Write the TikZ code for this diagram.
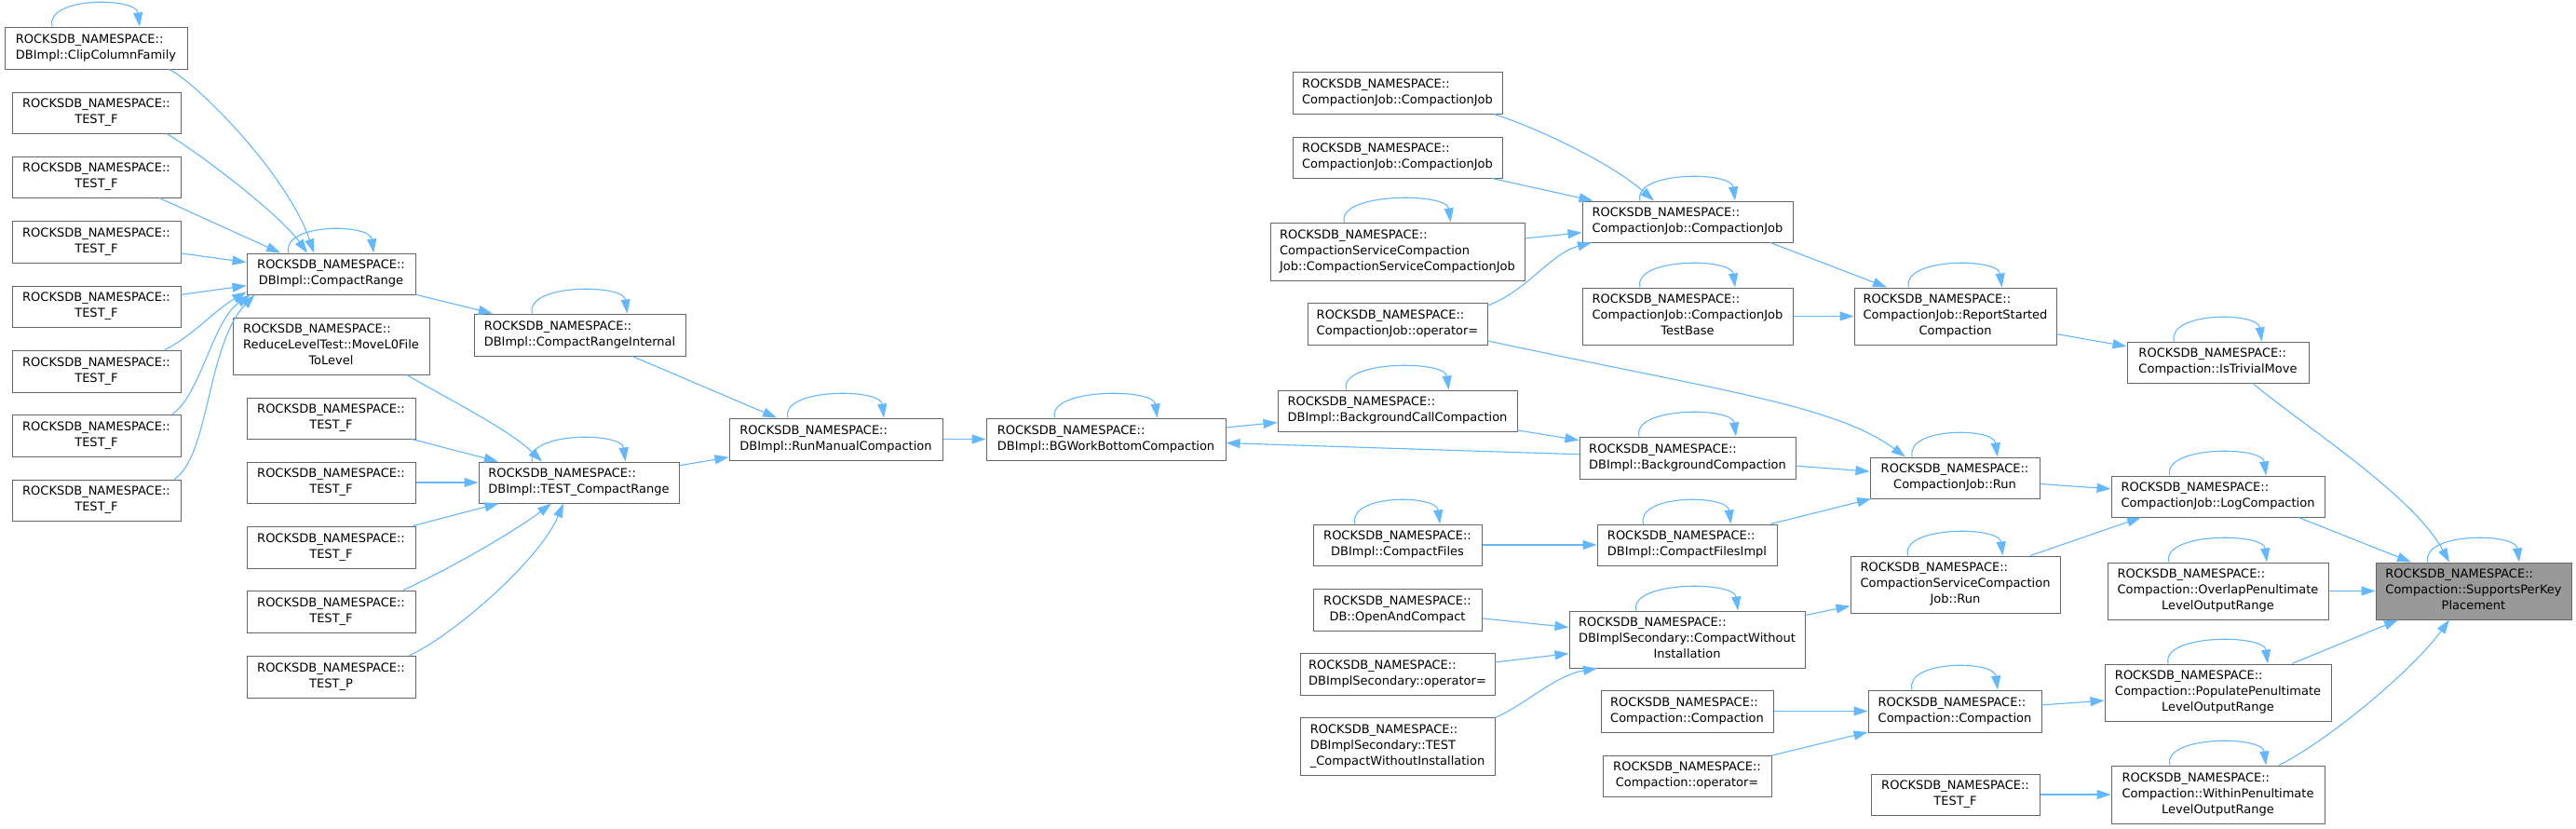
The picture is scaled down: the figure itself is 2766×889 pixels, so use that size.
\documentclass[tikz,border=0pt]{standalone}
\usepackage{fontspec}
\setmainfont{DejaVu Sans}
\usetikzlibrary{arrows.meta,calc}
\definecolor{nodeborder}{HTML}{666666}
\definecolor{edgeblue}{HTML}{63B8FF}
\definecolor{hlfill}{HTML}{999999}
\newcommand\rns{ROCKSDB\_NAMESPACE::}
\newcommand\twol[2]{\begin{tabular}{@{}l@{}}#1\\\multicolumn{1}{@{}c@{}}{#2}\end{tabular}}
\newcommand\threel[3]{\begin{tabular}{@{}l@{}}#1\\#2\\\multicolumn{1}{@{}c@{}}{#3}\end{tabular}}
\tikzset{
  fnbox/.style={draw=nodeborder, line width=1pt, inner sep=0pt, font=\fontsize{13}{17}\selectfont},
  conn/.style={draw=edgeblue, line width=1.1pt, -{Triangle[length=15pt,width=10pt]}}
}
\newcommand\bx[7][white]{%
  \pgfmathsetmacro\bxw{#5-#3}\pgfmathsetmacro\bxh{#6-#4}%
  \node[fnbox, fill=#1, minimum width=\bxw pt, minimum height=\bxh pt] (#2) at ({(#3+#5)/2},{(#4+#6)/2}) {#7};}
\newcommand\selfloop[2]{\draw[conn] ($(#1.north)+(-#2,0)$) .. controls ($(#1.north)+(-#2-8,-32)$) and ($(#1.north)+(#2-4,-32)$) .. ($(#1.north)+(#2,0)$);}
\begin{document}
\begin{tikzpicture}[x=1pt,y=-1pt]
\useasboundingbox (0,0) rectangle (2766,889);
\fill[white] (0,0) rectangle (2766,889);
% column 1
\bx{ccf}{5}{29}{201}{74}{\twol{\rns}{DBImpl::ClipColumnFamily}}
\bx{t1}{13}{99}{194}{143}{\twol{\rns}{TEST\_F}}
\bx{t2}{13}{168}{194}{212}{\twol{\rns}{TEST\_F}}
\bx{t3}{13}{237}{194}{282}{\twol{\rns}{TEST\_F}}
\bx{t4}{13}{307}{194}{351}{\twol{\rns}{TEST\_F}}
\bx{t5}{13}{376}{194}{421}{\twol{\rns}{TEST\_F}}
\bx{t6}{13}{445}{194}{490}{\twol{\rns}{TEST\_F}}
\bx{t7}{13}{515}{194}{559}{\twol{\rns}{TEST\_F}}
% column 2
\bx{cr}{265}{272}{446}{316}{\twol{\rns}{DBImpl::CompactRange}}
\bx{rl}{250}{341}{461}{402}{\threel{\rns}{ReduceLevelTest::MoveL0File}{ToLevel}}
\bx{u1}{265}{427}{446}{471}{\twol{\rns}{TEST\_F}}
\bx{u2}{265}{496}{446}{540}{\twol{\rns}{TEST\_F}}
\bx{u3}{265}{565}{446}{610}{\twol{\rns}{TEST\_F}}
\bx{u4}{265}{634}{446}{679}{\twol{\rns}{TEST\_F}}
\bx{u5}{265}{704}{446}{749}{\twol{\rns}{TEST\_P}}
% column 3
\bx{cri}{509}{337}{736}{382}{\twol{\rns}{DBImpl::CompactRangeInternal}}
\bx{tcr}{514}{496}{729}{540}{\twol{\rns}{DBImpl::TEST\_CompactRange}}
% column 4
\bx{rmc}{783}{449}{1012}{494}{\twol{\rns}{DBImpl::RunManualCompaction}}
\bx{bgw}{1059}{449}{1316}{494}{\twol{\rns}{DBImpl::BGWorkBottomCompaction}}
% column 5
\bx{cj1}{1388}{77}{1613}{122}{\twol{\rns}{CompactionJob::CompactionJob}}
\bx{cj2}{1388}{147}{1613}{191}{\twol{\rns}{CompactionJob::CompactionJob}}
\bx{cscj}{1364}{239}{1637}{301}{\threel{\rns}{CompactionServiceCompaction}{Job::CompactionServiceCompactionJob}}
\bx{cjop}{1404}{325}{1597}{370}{\twol{\rns}{CompactionJob::operator=}}
\bx{bcc}{1372}{419}{1629}{463}{\twol{\rns}{DBImpl::BackgroundCallCompaction}}
\bx{cf}{1410}{563}{1591}{607}{\twol{\rns}{DBImpl::CompactFiles}}
\bx{oac}{1410}{632}{1591}{677}{\twol{\rns}{DB::OpenAndCompact}}
\bx{dsop}{1396}{701}{1605}{746}{\twol{\rns}{DBImplSecondary::operator=}}
\bx{tcwi}{1396}{770}{1605}{832}{\threel{\rns}{DBImplSecondary::TEST}{\_CompactWithoutInstallation}}
% column 6
\bx{cjc}{1699}{216}{1925}{260}{\twol{\rns}{CompactionJob::CompactionJob}}
\bx{cjtb}{1699}{309}{1925}{370}{\threel{\rns}{CompactionJob::CompactionJob}{TestBase}}
\bx{bc}{1696}{469}{1928}{514}{\twol{\rns}{DBImpl::BackgroundCompaction}}
\bx{cfi}{1715}{563}{1908}{607}{\twol{\rns}{DBImpl::CompactFilesImpl}}
\bx{cwi}{1685}{656}{1938}{717}{\threel{\rns}{DBImplSecondary::CompactWithout}{Installation}}
\bx{cc}{1719}{741}{1904}{786}{\twol{\rns}{Compaction::Compaction}}
\bx{cop}{1721}{811}{1902}{855}{\twol{\rns}{Compaction::operator=}}
% column 7
\bx{rsc}{1991}{309}{2208}{370}{\threel{\rns}{CompactionJob::ReportStarted}{Compaction}}
\bx{cjr}{2008}{491}{2190}{535}{\twol{\rns}{CompactionJob::Run}}
\bx{cscjr}{1987}{597}{2212}{658}{\threel{\rns}{CompactionServiceCompaction}{Job::Run}}
\bx{ccr}{2006}{741}{2192}{786}{\twol{\rns}{Compaction::Compaction}}
\bx{tfr}{2009}{831}{2190}{875}{\twol{\rns}{TEST\_F}}
% column 8
\bx{itm}{2284}{367}{2479}{411}{\twol{\rns}{Compaction::IsTrivialMove}}
\bx{lc}{2267}{511}{2496}{555}{\twol{\rns}{CompactionJob::LogCompaction}}
\bx{ov}{2263}{604}{2500}{665}{\threel{\rns}{Compaction::OverlapPenultimate}{LevelOutputRange}}
\bx{pp}{2260}{713}{2503}{774}{\threel{\rns}{Compaction::PopulatePenultimate}{LevelOutputRange}}
\bx{wp}{2267}{822}{2496}{884}{\threel{\rns}{Compaction::WithinPenultimate}{LevelOutputRange}}
% column 9
\bx[hlfill]{spk}{2551}{604}{2761}{665}{\threel{\rns}{Compaction::SupportsPerKey}{Placement}}

% self loops
\selfloop{ccf}{47}
\selfloop{cr}{45.6}
\selfloop{cri}{51}
\selfloop{tcr}{50}
\selfloop{rmc}{51.6}
\selfloop{bgw}{55}
\selfloop{bcc}{55}
\selfloop{cscj}{57}
\selfloop{cjc}{51}
\selfloop{cjtb}{51}
\selfloop{rsc}{50}
\selfloop{itm}{47}
\selfloop{bc}{52}
\selfloop{cf}{45.6}
\selfloop{cfi}{47}
\selfloop{cwi}{54.6}
\selfloop{cjr}{45.7}
\selfloop{cscjr}{51}
\selfloop{ccr}{46}
\selfloop{lc}{51.6}
\selfloop{ov}{52.6}
\selfloop{pp}{53.4}
\selfloop{wp}{51.6}
\selfloop{spk}{49}

% edges
\draw[conn] ($(ccf.south)+(79,0)$) .. controls (215,92) and (310,190) .. ($(cr.north)+(-18.5,0)$);
\draw[conn] ($(t1.south)+(75.5,0)$) .. controls (215,165) and (300,230) .. ($(cr.north)+(-25.5,0)$);
\draw[conn] ($(t2.south)+(67.5,0)$) -- ($(cr.north)+(-54.5,0)$);
\draw[conn] (t3) -- (cr);
\draw[conn] (t4) -- (cr);
\draw[conn] ($(t5.north)+(73.5,0)$) .. controls (205,362) and (232,332) .. ($(cr.south west)+(0,-3)$);
\draw[conn] ($(t6.north)+(81.5,0)$) .. controls (215,425) and (228,345) .. ($(cr.south west)+(4,0)$);
\draw[conn] ($(t7.north)+(83.5,0)$) .. controls (225,490) and (222,370) .. ($(cr.south west)+(9,0)$);
\draw[conn] (cr) -- (cri);
\draw[conn] ($(cri.south)+(56.5,0)$) -- ($(rmc.north)+(-63.5,0)$);
\draw[conn] ($(rl.south)+(81.5,0)$) .. controls (480,428) and (545,460) .. ($(tcr.north)+(-39.5,0)$);
\draw[conn] (u1) -- (tcr);
\draw[conn] (u2) -- (tcr);
\draw[conn] (u3) -- (tcr);
\draw[conn] ($(u4.north)+(77.5,0)$) .. controls (495,605) and (560,565) .. ($(tcr.south)+(-29.5,0)$);
\draw[conn] ($(u5.north)+(84.5,0)$) .. controls (490,680) and (580,600) .. ($(tcr.south)+(-16.5,0)$);
\draw[conn] (tcr) -- (rmc);
\draw[conn] (rmc) -- (bgw);
\draw[conn] (bgw) -- (bcc);
\draw[conn] (bc) -- (bgw);
\draw[conn] (bcc) -- (bc);
\draw[conn] (bc) -- (cjr);
\draw[conn] ($(cjop.east)+(0,18.5)$) .. controls (1850,420) and (1970,435) .. ($(cjr.north)+(-53,0)$);
\draw[conn] ($(cjop.east)+(0,-19.5)$) .. controls (1640,312) and (1665,272) .. ($(cjc.south)+(-103,0)$);
\draw[conn] ($(cj1.south)+(103.5,0)$) .. controls (1650,137) and (1730,175) .. ($(cjc.north)+(-36,0)$);
\draw[conn] (cj2) -- (cjc);
\draw[conn] (cscj) -- (cjc);
\draw[conn] ($(cjc.south)+(89,0)$) -- ($(rsc.north)+(-73.5,0)$);
\draw[conn] (cjtb) -- (rsc);
\draw[conn] (rsc) -- (itm);
\draw[conn] ($(itm.south)+(37.5,0)$) .. controls (2470,455) and (2590,530) .. ($(spk.north)+(-26,0)$);
\draw[conn] (cf) -- (cfi);
\draw[conn] (cfi) -- (cjr);
\draw[conn] (cjr) -- (lc);
\draw[conn] ($(cscjr.north)+(80.5,0)$) -- ($(lc.south)+(-82.5,0)$);
\draw[conn] (cwi) -- (cscjr);
\draw[conn] (oac) -- (cwi);
\draw[conn] (dsop) -- (cwi);
\draw[conn] ($(tcwi.north east)+(0,1)$) .. controls (1640,755) and (1670,725) .. ($(cwi.south)+(-96.5,0)$);
\draw[conn] (cc) -- (ccr);
\draw[conn] (cop) -- (ccr);
\draw[conn] (ccr) -- (pp);
\draw[conn] (tfr) -- (wp);
\draw[conn] ($(lc.south)+(86.5,0)$) -- ($(spk.north)+(-67,0)$);
\draw[conn] (ov) -- (spk);
\draw[conn] ($(pp.north)+(79.5,0)$) -- ($(spk.south)+(-81,0)$);
\draw[conn] ($(wp.north)+(65.5,0)$) .. controls (2500,795) and (2590,720) .. ($(spk.south)+(-26,0)$);
\end{tikzpicture}
\end{document}
